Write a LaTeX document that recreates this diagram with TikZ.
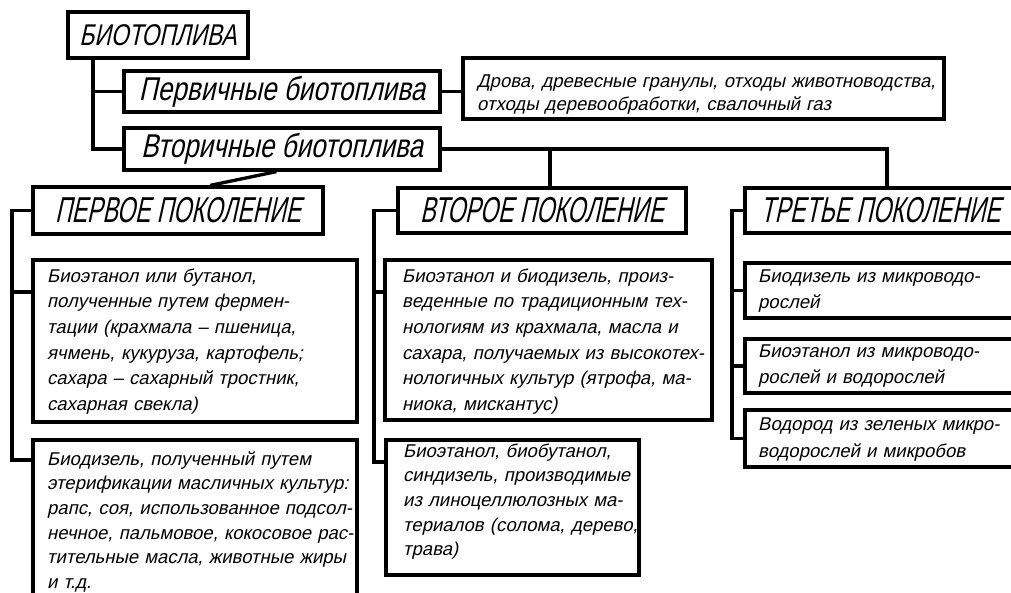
\documentclass[tikz,border=0pt]{standalone}
\usepackage{fontspec}
\setmainfont{Liberation Sans}
\newfontfamily\fbody{Liberation Sans}[FakeSlant=0.22]
\newfontfamily\froot{Liberation Sans}[FakeStretch=0.76,FakeSlant=0.22]
\newfontfamily\fprim{Liberation Sans}[FakeStretch=0.79,FakeSlant=0.22]
\newfontfamily\fgen{Liberation Sans}[FakeStretch=0.64,FakeSlant=0.22]
\usetikzlibrary{calc}
\tikzset{
  box/.style={draw=black, line width=3.3pt, fill=white, rectangle, inner sep=0pt, anchor=center},
  conn/.style={draw=black, line width=3.3pt, line join=miter},
  rootfont/.style={font=\froot\fontsize{30}{36}\selectfont},
  primfont/.style={font=\fprim\fontsize{33}{40}\selectfont},
  genfont/.style={font=\fgen\fontsize{36}{42}\selectfont},
  body/.style={font=\fbody\fontsize{18.5}{#1}\selectfont, anchor=north west, inner sep=0pt,
               text width=520pt, align=left},
}
\begin{document}
\begin{tikzpicture}[x=1pt,y=-1pt]
\path[use as bounding box] (0,0) rectangle (1011,593);
\clip (0,0) rectangle (1011,593);
% boxes
\node[box, rootfont, minimum width=180pt, minimum height=46pt] (root) at (158,35) {БИОТОПЛИВА};
\node[box, primfont, minimum width=316pt, minimum height=41pt] (prim) at (282,91.5) {Первичные биотоплива};
\node[box, primfont, minimum width=316pt, minimum height=42pt] (sec) at (282,149) {Вторичные биотоплива};
\node[box, minimum width=481pt, minimum height=61pt] (drova) at (703.5,88.5) {};
\node[box, genfont, minimum width=290pt, minimum height=47pt] (g1) at (178,210.5) {ПЕРВОЕ ПОКОЛЕНИЕ};
\node[box, minimum width=324pt, minimum height=162pt] (g1a) at (195,341) {};
\node[box, minimum width=324pt, minimum height=180pt] (g1b) at (195,530) {};
\node[box, genfont, minimum width=288pt, minimum height=45pt] (g2) at (542,210.5) {ВТОРОЕ ПОКОЛЕНИЕ};
\node[box, minimum width=327pt, minimum height=160pt] (g2a) at (548.5,340) {};
\node[box, minimum width=253pt, minimum height=135pt] (g2b) at (512.5,507.5) {};
\node[box, genfont, minimum width=271pt, minimum height=45pt] (g3) at (880.5,210.5) {ТРЕТЬЕ ПОКОЛЕНИЕ};
\node[box, minimum width=271pt, minimum height=55pt] (g3a) at (880.5,290.5) {};
\node[box, minimum width=271pt, minimum height=54pt] (g3b) at (880.5,366) {};
\node[box, minimum width=271pt, minimum height=57pt] (g3c) at (880.5,438.5) {};
% texts
\node[body=23] (tdrova) at (477,70.9) {\strut Дрова, древесные гранулы, отходы животноводства,\\отходы деревообработки, свалочный газ};
\node[body=25.6] (tg1a) at (47,264.1) {\strut Биоэтанол или бутанол,\\полученные путем фермен-\\тации (крахмала – пшеница,\\ячмень, кукуруза, картофель;\\сахара – сахарный тростник,\\сахарная свекла)};
\node[body=24.6] (tg1b) at (47,447.8) {\strut Биодизель, полученный путем\\этерификации масличных культур:\\рапс, соя, использованное подсол-\\нечное, пальмовое, кокосовое рас-\\тительные масла, животные жиры\\и т.д.};
\node[body=25.6] (tg2a) at (402,264.1) {\strut Биоэтанол и биодизель, произ-\\веденные по традиционным тех-\\нологиям из крахмала, масла и\\сахара, получаемых из высокотех-\\нологичных культур (ятрофа, ма-\\ниока, мискантус)};
\node[body=24.6] (tg2b) at (403,439.8) {\strut Биоэтанол, биобутанол,\\синдизель, производимые\\из линоцеллюлозных ма-\\териалов (солома, дерево,\\трава)};
\node[body=26] (tg3a) at (758,263.8) {\strut Биодизель из микроводо-\\рослей};
\node[body=26] (tg3b) at (758,338.8) {\strut Биоэтанол из микроводо-\\рослей и водорослей};
\node[body=27] (tg3c) at (758,411.1) {\strut Водород из зеленых микро-\\водорослей и микробов};
% coordinates
\coordinate (t0) at (93,58);
\coordinate (j2) at (550,149);
\coordinate (j3) at (887,149);
\coordinate (L1) at (12,0);
\coordinate (L2) at (374,0);
\coordinate (L3) at (732,0);
\coordinate (g1ain) at (33,292);
\coordinate (g1bin) at (33,460);
\coordinate (g2ain) at (385,292);
\coordinate (g2bin) at (386,462);
% connectors
\draw[conn] (t0) |- (sec.west);
\draw[conn] (t0 |- prim.west) -- (prim.west);
\draw[conn] (prim.east) -- (prim.east -| drova.west);
\draw[conn] (sec.east) -| (j3 |- g3.north);
\draw[conn] (j2) -- (j2 |- g2.north);
\draw[conn] ($(sec.south west)+(154,0)$) -- ($(g1.north west)+(179,0)$);
\draw[conn] (g1.west) -| (L1 |- g1bin) -- (g1bin);
\draw[conn] (L1 |- g1ain) -- (g1ain);
\draw[conn] (g2.west) -| (L2 |- g2bin) -- (g2bin);
\draw[conn] (L2 |- g2ain) -- (g2ain);
\draw[conn] (g3.west) -| (L3 |- g3c.west) -- (g3c.west);
\draw[conn] (L3 |- g3a.west) -- (g3a.west);
\draw[conn] (L3 |- g3b.west) -- (g3b.west);
\end{tikzpicture}
\end{document}
